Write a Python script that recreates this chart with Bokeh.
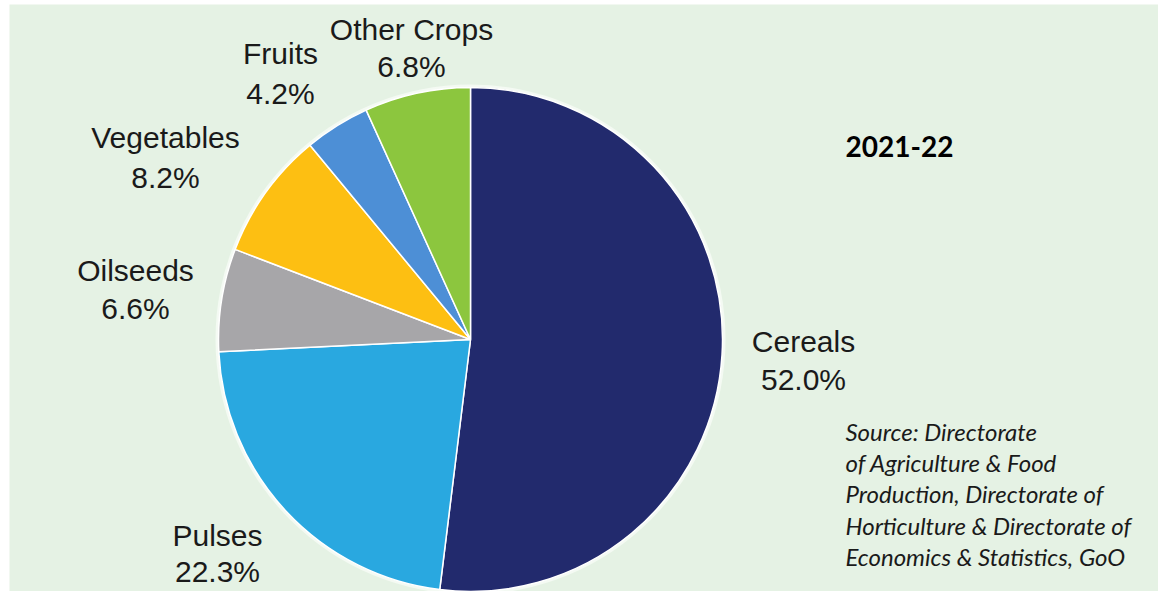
from bokeh.plotting import figure
from bokeh.models import ColumnDataSource, Range1d
from bokeh.core.properties import value
from bokeh.embed import file_html
from bokeh.resources import INLINE
import math

# ---- data ----
categories = ["Cereals", "Pulses", "Oilseeds", "Vegetables", "Fruits", "Other Crops"]
shares = [52.0, 22.3, 6.6, 8.2, 4.2, 6.8]
share_labels = ["52.0%", "22.3%", "6.6%", "8.2%", "4.2%", "6.8%"]
colors = ["#222a6d", "#29a8e0", "#a7a6a9", "#fdbf12", "#4d8fd6", "#8cc63e"]
year_label = "2021-22"
source_lines = [
    "Source: Directorate",
    "of Agriculture & Food",
    "Production, Directorate of",
    "Horticulture & Directorate of",
    "Economics & Statistics, GoO",
]

# ---- layout (pixel coordinates from top-left of window) ----
W, H = 1158, 591
CX, CY, R = 470, 339, 252
label_x = [803, 217, 135, 165, 280, 411]
name_mid = [341, 535, 270, 137, 53, 29]
val_mid = [379, 571, 308, 177, 93, 66]
src_mid = [431, 462, 493, 525, 556]


def fy(py):
    return H - py


total = sum(shares)
starts, ends = [], []
acc = 0.0
for s in shares:
    a0 = math.pi / 2 - 2 * math.pi * acc / total
    acc += s
    a1 = math.pi / 2 - 2 * math.pi * acc / total
    starts.append(a0)
    ends.append(a1)

src = ColumnDataSource(dict(cat=categories, start=starts, end=ends, color=colors))

p = figure(width=W, height=H, output_backend="svg", toolbar_location=None,
           x_range=Range1d(9, W), y_range=Range1d(0, H - 4),
           min_border_left=9, min_border_top=4, min_border_right=0, min_border_bottom=0)
p.background_fill_color = "#e5f2e4"
p.border_fill_color = "#ffffff"
p.outline_line_color = None
p.xaxis.visible = False
p.yaxis.visible = False
p.xgrid.visible = False
p.ygrid.visible = False

# soft halo around pie
p.circle(x=[CX], y=[fy(CY)], radius=R + 3, fill_color="#f4faf3", line_color=None)

p.wedge(x=CX, y=fy(CY), radius=R, start_angle="start", end_angle="end",
        direction="clock", fill_color="color", line_color="#ffffff", line_width=1.5,
        source=src)

lab = ColumnDataSource(dict(
    x=label_x,
    yn=[fy(v) for v in name_mid],
    yv=[fy(v) for v in val_mid],
    name=categories,
    val=share_labels,
))
p.text(x="x", y="yn", text="name", source=lab, text_align="center",
       text_baseline="middle", text_font=value("Liberation Sans"),
       text_font_size="30px", text_color="#1a1a1a")
p.text(x="x", y="yv", text="val", source=lab, text_align="center",
       text_baseline="middle", text_font=value("Liberation Sans"),
       text_font_size="30px", text_color="#1a1a1a")

p.text(x=[845], y=[fy(146)], text=[year_label], text_align="left",
       text_baseline="middle", text_font=value("Lato"), text_font_style="bold",
       text_font_size="28px", text_color="#000000")

p.text(x=[845] * len(source_lines), y=[fy(v) for v in src_mid], text=source_lines,
       text_align="left", text_baseline="middle", text_font=value("Lato"),
       text_font_style="italic", text_font_size="24px", text_color="#1a1a1a")

open("out.html", "w").write(file_html(p, INLINE))
